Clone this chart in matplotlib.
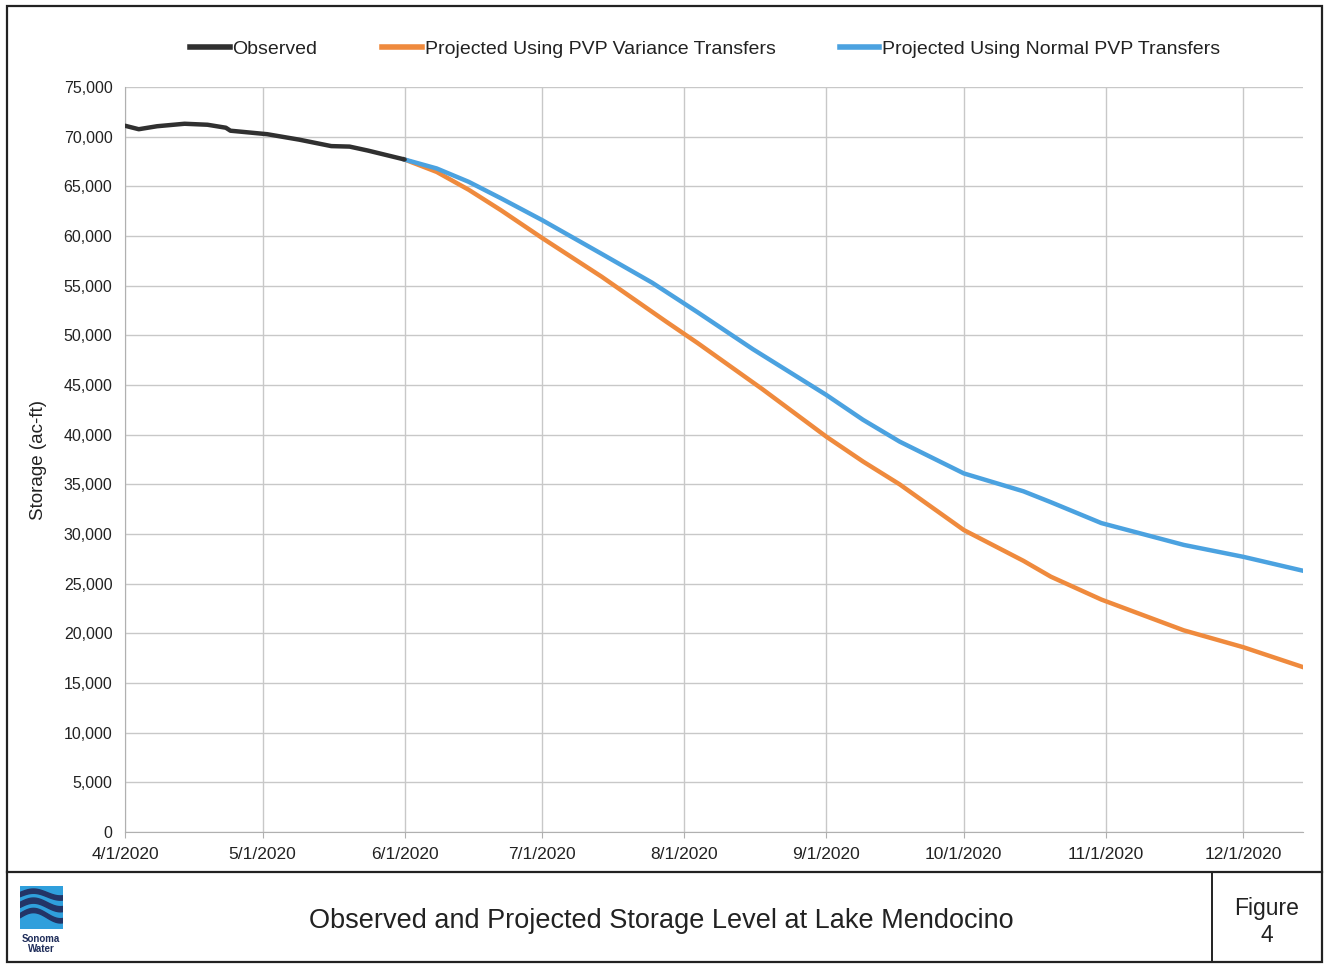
import numpy as np
import pandas as pd
import matplotlib
matplotlib.use("Agg")
import matplotlib.pyplot as plt
from matplotlib.patches import Rectangle, Polygon
from matplotlib.lines import Line2D

plt.rcParams['font.family'] = ['Liberation Sans', 'DejaVu Sans']

# observed storage (ac-ft)
obs_dates = ["2020-04-01", "2020-04-04", "2020-04-08", "2020-04-14", "2020-04-19",
             "2020-04-23", "2020-04-24", "2020-05-02", "2020-05-09", "2020-05-16",
             "2020-05-20", "2020-05-24", "2020-06-01"]
obs_vals = [71100, 70750, 71050, 71300, 71200, 70900, 70600, 70250, 69700,
            69050, 69000, 68600, 67700]

# projected using PVP variance transfers
var_dates = ["2020-06-01", "2020-06-08", "2020-06-15", "2020-06-22", "2020-07-01",
             "2020-07-14", "2020-07-28", "2020-08-04", "2020-08-18", "2020-09-01",
             "2020-09-09", "2020-09-17", "2020-10-01", "2020-10-14", "2020-10-20",
             "2020-10-31", "2020-11-18", "2020-12-01", "2020-12-14"]
variance_vals = [67700, 66450, 64650, 62600, 59800, 55900, 51400, 49200, 44600,
                 39800, 37300, 35000, 30400, 27300, 25700, 23400, 20300, 18600, 16600]

# projected using normal PVP transfers
norm_dates = ["2020-06-01", "2020-06-08", "2020-06-15", "2020-06-22", "2020-07-01",
              "2020-07-14", "2020-07-25", "2020-08-04", "2020-08-16", "2020-09-01",
              "2020-09-09", "2020-09-17", "2020-10-01", "2020-10-14", "2020-10-20",
              "2020-10-31", "2020-11-18", "2020-12-01", "2020-12-14"]
normal_vals = [67700, 66800, 65450, 63800, 61600, 58200, 55300, 52300, 48600,
               44000, 41500, 39300, 36100, 34300, 33200, 31100, 28900, 27700, 26300]

tick_dates = ["2020-04-01", "2020-05-01", "2020-06-01", "2020-07-01", "2020-08-01",
              "2020-09-01", "2020-10-01", "2020-11-01", "2020-12-01"]
tick_labels = ["4/1/2020", "5/1/2020", "6/1/2020", "7/1/2020", "8/1/2020",
               "9/1/2020", "10/1/2020", "11/1/2020", "12/1/2020"]
y_ticks = list(range(0, 75001, 5000))

c_obs = "#303030"
c_var = "#ef8a3d"
c_norm = "#4ba2e0"

fig = plt.figure(figsize=(13.28, 9.66), dpi=100)
W, H = 1328, 966

ax = fig.add_axes([125 / W, (H - 832) / H, (1303 - 125) / W, 745 / H])
ax.plot(pd.to_datetime(obs_dates), obs_vals, color=c_obs, lw=3.2,
        solid_capstyle='round', zorder=4)
ax.plot(pd.to_datetime(var_dates), variance_vals, color=c_var, lw=3.2, zorder=3)
ax.plot(pd.to_datetime(norm_dates), normal_vals, color=c_norm, lw=3.2, zorder=3)

ax.set_xlim(pd.Timestamp("2020-04-01"), pd.Timestamp("2020-12-14"))
ax.set_ylim(0, 75000)
ax.set_xticks(pd.to_datetime(tick_dates))
ax.set_xticklabels(tick_labels, fontsize=12.5, color="#222222")
ax.set_yticks(y_ticks)
ax.set_yticklabels([f"{v:,}" for v in y_ticks], fontsize=11.5, color="#222222")
ax.grid(True, color="#c8c8c8", lw=1)
ax.set_axisbelow(True)
for s in ["top", "right"]:
    ax.spines[s].set_visible(False)
for s in ["left", "bottom"]:
    ax.spines[s].set_color("#b0b0b0")
ax.tick_params(axis='x', length=4, color="#b0b0b0", pad=7)
ax.tick_params(axis='y', length=0, pad=9)
ax.set_ylabel("Storage (ac-ft)", fontsize=13.5, labelpad=12, color="#222222")

handles = [Line2D([], [], color=c_obs, lw=4),
           Line2D([], [], color=c_var, lw=4),
           Line2D([], [], color=c_norm, lw=4)]
fig.legend(handles, ["Observed", "Projected Using PVP Variance Transfers",
                     "Projected Using Normal PVP Transfers"],
           loc='center', bbox_to_anchor=(0.531, 0.949), ncol=3, frameon=False,
           fontsize=14, handlelength=2.05, handletextpad=0.15, columnspacing=3.3,
           labelcolor="#222222")

# page frame and title block
fig.add_artist(Rectangle((7 / W, 4 / H), (1322 - 7) / W, (960 - 4) / H,
                         transform=fig.transFigure, fill=False, ec="#222222", lw=1.6))
fig.add_artist(Line2D([7 / W, 1322 / W], [(H - 872) / H] * 2,
                      transform=fig.transFigure, color="#222222", lw=1.6))
fig.add_artist(Line2D([1212 / W] * 2, [4 / H, (H - 872) / H],
                      transform=fig.transFigure, color="#222222", lw=1.4))
fig.text(661 / W, (H - 921) / H, "Observed and Projected Storage Level at Lake Mendocino",
         ha='center', va='center', fontsize=19.5, color="#222222")
fig.text(1267 / W, (H - 922) / H, "Figure\n4", ha='center', va='center',
         fontsize=16.5, color="#222222", linespacing=1.2)

# Sonoma Water logo
lax = fig.add_axes([20 / W, (H - 929) / H, 43 / W, 43 / H])
lax.set_xlim(0, 1)
lax.set_ylim(0, 1)
lax.axis('off')
lax.add_patch(Rectangle((0, 0), 1, 1, color="#2f9fdc"))
xs = np.linspace(0, 1, 40)
bands = [(0.85, 0.08, 0.10), (0.62, 0.10, 0.12), (0.36, 0.12, 0.10)]
for base, amp, thick in bands:
    top = base + amp * np.sin(xs * 5)
    pts = np.column_stack([np.r_[xs, xs[::-1]], np.r_[top, (top - thick)[::-1]]])
    lax.add_patch(Polygon(pts, closed=True, color="#233466"))
fig.text(41 / W, (H - 944) / H, "Sonoma\nWater", ha='center', va='center',
         fontsize=7, fontweight='bold', color="#1f2d5a", linespacing=1.0)

fig.savefig("out.png", dpi=100)
